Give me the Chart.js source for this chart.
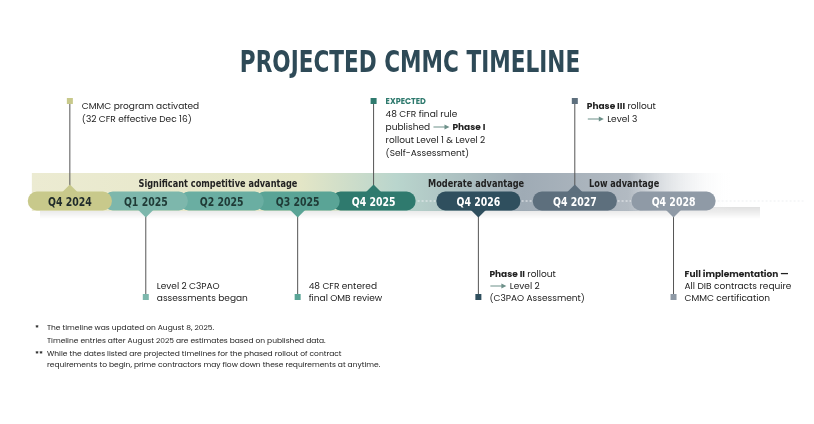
<!DOCTYPE html>
<html><head><meta charset="utf-8">
<script src="https://cdn.jsdelivr.net/npm/chart.js@4"></script>
<style>html,body{margin:0;padding:0;background:#fff}#w{width:814px;height:424px}</style>
</head><body><div id="w"><canvas id="c" width="814" height="424"></canvas></div>
<script>
const quarters = ["Q4 2024","Q1 2025","Q2 2025","Q3 2025","Q4 2025","Q4 2026","Q4 2027","Q4 2028"];
const slots = [0,1,2,3,4,5.38,6.65,7.95];
const pillColors = ["#c8c98b","#7db7ac","#6aaea2","#5aa496","#2f7a6e","#2f4f5e","#5d6f7d","#8f9aa6"];
const pillText = ["#1f2a2a","#1f3a36","#1f3a36","#1f3a36","#ffffff","#ffffff","#ffffff","#ffffff"];
const markerSide = ["up","down","none","down","up","down","up","down"];
const bandLabels = ["Significant competitive advantage","Moderate advantage","Low advantage"];
const bandLabelSlots = [1.95,5.35,7.3];
const notes = [
  [[["CMMC program activated","n"]],[["(32 CFR effective Dec 16)","n"]]],
  [[["Level 2 C3PAO","n"]],[["assessments began","n"]]],
  null,
  [[["48 CFR entered","n"]],[["final OMB review","n"]]],
  [[["EXPECTED","e"]],[["48 CFR final rule","n"]],[["published ","n"],["","a"],[" Phase I","b"]],[["rollout Level 1 & Level 2","n"]],[["(Self-Assessment)","n"]]],
  [[["Phase II","b"],[" rollout","n"]],[["","a"],[" Level 2","n"]],[["(C3PAO Assessment)","n"]]],
  [[["Phase III","b"],[" rollout","n"]],[["","a"],[" Level 3","n"]]],
  [[["Full implementation \u2014","b"]],[["All DIB contracts require","n"]],[["CMMC certification","n"]]]
];
const footnotes = [
  ["*","The timeline was updated on August 8, 2025."],
  ["","Timeline entries after August 2025 are estimates based on published data."],
  ["**","While the dates listed are projected timelines for the phased rollout of contract"],
  ["","requirements to begin, prime contractors may flow down these requirements at anytime."]
];
const F = "'Poppins','Lato','Noto Sans',sans-serif";
const C = "'DejaVu Sans',sans-serif";
const PY = 201, PH = 19;
function rr(ctx,x,y,w,h,r){ctx.beginPath();ctx.moveTo(x+r,y);ctx.arcTo(x+w,y,x+w,y+h,r);ctx.arcTo(x+w,y+h,x,y+h,r);ctx.arcTo(x,y+h,x,y,r);ctx.arcTo(x,y,x+w,y,r);ctx.closePath();}
function cond(ctx,size,text,x,y,sx){ctx.save();ctx.font="bold "+size+"px "+C;ctx.translate(x,y);ctx.scale(sx,1);ctx.fillText(text,0,0);ctx.restore();}
function drawLine(ctx,segs,x,y){
  for(const [t,s] of segs){
    if(s==="a"){ctx.save();ctx.strokeStyle="#6d9089";ctx.fillStyle="#6d9089";ctx.lineWidth=1;
      ctx.beginPath();ctx.moveTo(x+1,y-3);ctx.lineTo(x+14,y-3);ctx.stroke();
      ctx.beginPath();ctx.moveTo(x+17,y-3);ctx.lineTo(x+12,y-5.5);ctx.lineTo(x+12,y-0.5);ctx.fill();ctx.restore();x+=18;continue;}
    ctx.font=(s==="b"?"bold 9px ":s==="e"?"bold 8px ":"9px ")+F;
    ctx.fillStyle=s==="e"?"#2f7a6e":"#222";
    ctx.fillText(t,x,y);x+=ctx.measureText(t).width;
  }
}
const plugin={id:"tl",beforeDatasetsDraw(chart){
  const ctx=chart.ctx, xs=chart.scales.x;
  const px=i=>xs.getPixelForValue(slots[i]);
  ctx.save();
  // title
  ctx.fillStyle="#2e4a57";ctx.textAlign="center";
  cond(ctx,30,"PROJECTED CMMC TIMELINE",chart.width/2+3,72,0.72);
  // shadow
  let g=ctx.createLinearGradient(0,PY+6,0,PY+18);g.addColorStop(0,"rgba(0,0,0,0.12)");g.addColorStop(1,"rgba(0,0,0,0)");
  ctx.fillStyle=g;ctx.fillRect(40,PY+6,720,12);
  // band
  const bx0=px(0)-38,bx1=px(7)+60;
  g=ctx.createLinearGradient(bx0,0,bx1,0);
  g.addColorStop(0,"#ecebd2");g.addColorStop(0.38,"#e4e6c6");g.addColorStop(0.52,"#b9d5cd");g.addColorStop(0.7,"#9fabb5");g.addColorStop(0.85,"#b2bac2");g.addColorStop(1,"rgba(255,255,255,0)");
  ctx.fillStyle=g;ctx.fillRect(bx0,PY-28,bx1-bx0,38);
  ctx.strokeStyle="#eef0f2";ctx.setLineDash([2,2]);ctx.lineWidth=1;
  ctx.beginPath();ctx.moveTo(px(4),PY);ctx.lineTo(bx1+70,PY);ctx.stroke();ctx.setLineDash([]);
  ctx.textAlign="center";ctx.fillStyle="#222";
  bandLabels.forEach((t,i)=>cond(ctx,10.5,t,xs.getPixelForValue(bandLabelSlots[i]),PY-14,0.78));
  quarters.forEach((q,i)=>{
    const x=px(i),n=notes[i];if(!n)return;
    ctx.strokeStyle="#555";ctx.lineWidth=1;ctx.fillStyle=pillColors[i];
    ctx.textAlign="left";
    if(markerSide[i]==="up"){
      ctx.beginPath();ctx.moveTo(x,104);ctx.lineTo(x,PY-14);ctx.stroke();
      ctx.fillRect(x-3,98,6,6);
      n.forEach((ln,k)=>drawLine(ctx,ln,x+12,(i===4?104:109)+k*13));
    }else{
      ctx.beginPath();ctx.moveTo(x,PY+14);ctx.lineTo(x,296);ctx.stroke();
      ctx.fillRect(x-3,294,6,6);
      const y0=301-(n.length-1)*12;
      n.forEach((ln,k)=>drawLine(ctx,ln,x+11,y0+k*12));
    }
  });
  for(let i=quarters.length-1;i>=0;i--){
    const x=px(i),w=84;ctx.fillStyle=pillColors[i];
    rr(ctx,x-w/2,PY-PH/2,w,PH,9);ctx.fill();
    ctx.beginPath();
    if(markerSide[i]==="up"){ctx.moveTo(x-8,PY-PH/2+1);ctx.lineTo(x,PY-PH/2-7);ctx.lineTo(x+8,PY-PH/2+1);}
    else if(markerSide[i]==="down"){ctx.moveTo(x-8,PY+PH/2-1);ctx.lineTo(x,PY+PH/2+7);ctx.lineTo(x+8,PY+PH/2-1);}
    ctx.fill();
  }
  quarters.forEach((q,i)=>{ctx.textAlign="center";ctx.fillStyle=pillText[i];cond(ctx,12,q,px(i),PY+4.5,0.78);});
  ctx.textAlign="left";ctx.fillStyle="#222";
  const fy=[330,343,356,367];
  footnotes.forEach((f,k)=>{ctx.font="bold 7.5px "+F;ctx.fillText(f[0],35,fy[k]);ctx.font="7.5px "+F;ctx.fillText(f[1],47,fy[k]);});
  ctx.restore();
}};
new Chart(document.getElementById("c"),{
  type:"scatter",
  data:{datasets:[{data:slots.map(s=>({x:s,y:0})),pointRadius:0}]},
  options:{responsive:false,animation:false,events:[],
    layout:{padding:0},
    scales:{x:{type:"linear",min:-0.92,max:9.8,display:false},y:{min:-1,max:1,display:false}},
    plugins:{legend:{display:false},tooltip:{enabled:false},title:{display:false}}
  },plugins:[plugin]});
</script></body></html>
